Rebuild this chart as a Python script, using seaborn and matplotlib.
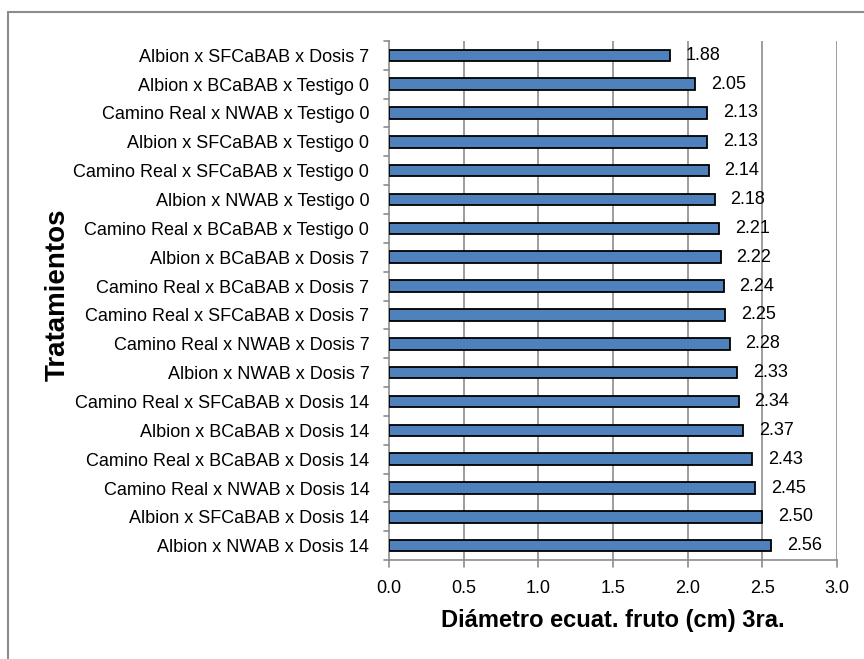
import matplotlib
matplotlib.use("Agg")
import matplotlib.pyplot as plt
from matplotlib.lines import Line2D
import pandas as pd
import seaborn as sns

# ----------------------------------------
# Data
# ----------------------------------------
tratamientos = [
    "Albion x SFCaBAB x Dosis 7",
    "Albion x BCaBAB x Testigo 0",
    "Camino Real x NWAB x Testigo 0",
    "Albion x SFCaBAB x Testigo 0",
    "Camino Real x SFCaBAB x Testigo 0",
    "Albion x NWAB x Testigo 0",
    "Camino Real x BCaBAB x Testigo 0",
    "Albion x BCaBAB x Dosis 7",
    "Camino Real x BCaBAB x Dosis 7",
    "Camino Real x SFCaBAB x Dosis 7",
    "Camino Real x NWAB x Dosis 7",
    "Albion x NWAB x Dosis 7",
    "Camino Real x SFCaBAB x Dosis 14",
    "Albion x BCaBAB x Dosis 14",
    "Camino Real x BCaBAB x Dosis 14",
    "Camino Real x NWAB x Dosis 14",
    "Albion x SFCaBAB x Dosis 14",
    "Albion x NWAB x Dosis 14",
]
diametro = [1.88, 2.05, 2.13, 2.13, 2.14, 2.18, 2.21, 2.22, 2.24,
            2.25, 2.28, 2.33, 2.34, 2.37, 2.43, 2.45, 2.50, 2.56]
x_ticks = [0.0, 0.5, 1.0, 1.5, 2.0, 2.5, 3.0]

df = pd.DataFrame({"tratamiento": tratamientos, "diametro": diametro})

# ----------------------------------------
# Style
# ----------------------------------------
sns.set_style("white")
plt.rcParams["font.family"] = ["Liberation Sans", "DejaVu Sans"]
plt.rcParams["text.color"] = "black"
plt.rcParams["axes.labelcolor"] = "black"
plt.rcParams["xtick.color"] = "black"
plt.rcParams["ytick.color"] = "black"

grid_col = "#8c8c8c"

fig = plt.figure(figsize=(8.64, 6.59), dpi=100)
ax = fig.add_axes([0.450, 0.150, 0.519, 0.788])

sns.barplot(data=df, x="diametro", y="tratamiento", orient="h",
            color="#4f81bd", saturation=1, width=0.4,
            edgecolor="black", linewidth=1.3, ax=ax, zorder=3)

ax.set_xlim(0, 3.0)
ax.set_xticks(x_ticks)
ax.set_xticklabels([f"{t:.1f}" for t in x_ticks], fontsize=13)
ax.tick_params(axis="y", labelsize=13, length=0, pad=14)
ax.tick_params(axis="x", length=0, pad=14)

# gridlines and axis lines like Excel
for t in x_ticks[1:]:
    ax.axvline(t, color=grid_col, lw=1.2, zorder=1)
for s in ["top", "right"]:
    ax.spines[s].set_visible(False)
for s in ["left", "bottom"]:
    ax.spines[s].set_color(grid_col)
    ax.spines[s].set_linewidth(1.2)

# tick marks between categories (left) and at each x tick (bottom)
n = len(tratamientos)
for k in range(n + 1):
    ax.plot([-0.035, 0], [k - 0.5, k - 0.5], color=grid_col, lw=1.2,
            clip_on=False, zorder=2)
for t in x_ticks:
    ax.plot([t, t], [n - 0.5, n - 0.5 + 0.25], color=grid_col, lw=1.2,
            clip_on=False, zorder=2)
ax.set_ylim(n - 0.5, -0.5)

# data labels
for i, v in enumerate(diametro):
    ax.text(v + 0.105, i, f"{v:.2f}", va="center", ha="left", fontsize=13,
            color="black", zorder=4)

ax.set_xlabel("Diámetro ecuat. fruto (cm) 3ra.", fontsize=17,
              fontweight="bold", labelpad=9)
ax.set_ylabel("Tratamientos", fontsize=20, fontweight="bold")
ax.yaxis.set_label_coords((58 - 389) / 448.0, 0.512)
ax.yaxis.label.set_verticalalignment("center")

# outer chart-area border (top and left edges visible)
fig.add_artist(Line2D([8 / 864, 1.0], [1 - 12 / 659, 1 - 12 / 659],
                      transform=fig.transFigure, color=grid_col, lw=1.5))
fig.add_artist(Line2D([8 / 864, 8 / 864], [0, 1 - 12 / 659],
                      transform=fig.transFigure, color=grid_col, lw=1.5))

fig.savefig("out.png", dpi=100, facecolor="white")
plt.close(fig)
